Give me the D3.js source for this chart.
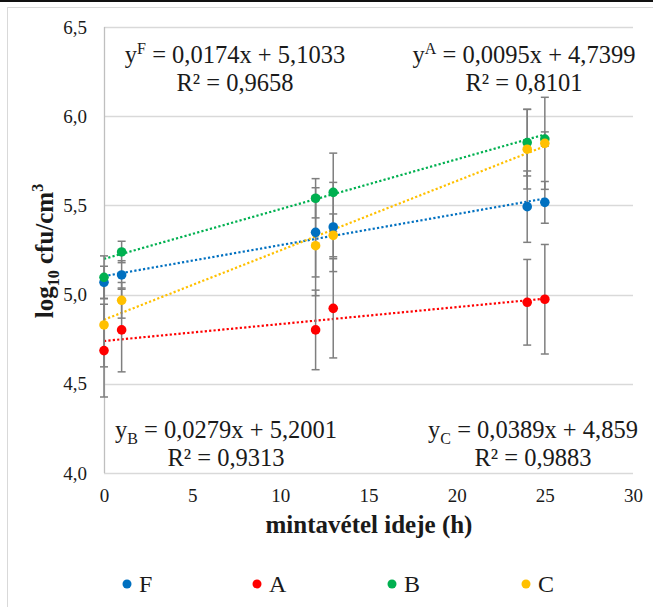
<!DOCTYPE html>
<html>
<head>
<meta charset="utf-8">
<script src="https://cdn.jsdelivr.net/npm/d3@7"></script>
<style>
  html, body { margin: 0; padding: 0; background: #fff; }
  svg { display: block; }
  text { font-family: "Liberation Serif", "Times New Roman", serif; fill: #1a1a1a; }
</style>
</head>
<body>
<svg id="chart" width="653" height="607"></svg>
<script>
// Sampling times (h)
const times = [0, 1, 12, 13, 24, 25];

// log10 cfu/cm3 means per series
const seriesNames = ["F", "A", "B", "C"];
const valuesF = [5.069, 5.110, 5.349, 5.379, 5.493, 5.517];
const valuesA = [4.686, 4.802, 4.802, 4.923, 4.957, 4.974];
const valuesB = [5.097, 5.239, 5.540, 5.573, 5.852, 5.872];
const valuesC = [4.830, 4.968, 5.274, 5.332, 5.815, 5.848];

// standard deviations (error bars)
const errF = [0.09, 0.08, 0.25, 0.25, 0.20, 0.117];
const errA = [0.26, 0.235, 0.223, 0.278, 0.24, 0.307];
const errB = [0.12, 0.06, 0.11, 0.22, 0.187, 0.04];
const errC = [0.235, 0.10, 0.28, 0.12, 0.223, 0.258];

const colors = ["#0070C0", "#FF0000", "#00B050", "#FFC000"];

// linear trendlines y = slope * x + intercept
const slopes = [0.0174, 0.0095, 0.0279, 0.0389];
const intercepts = [5.1033, 4.7399, 5.2001, 4.859];

// axis ticks
const xTicks = [0, 5, 10, 15, 20, 25, 30];
const yTicks = [4.0, 4.5, 5.0, 5.5, 6.0, 6.5];

const allValues = [valuesF, valuesA, valuesB, valuesC];
const allErr = [errF, errA, errB, errC];

const svg = d3.select("#chart");
const W = 653, H = 607;

// outer chart frame and top rule
svg.append("rect").attr("x", 0).attr("y", 0).attr("width", W).attr("height", H).attr("fill", "#fff");
svg.append("rect").attr("x", 7.5).attr("y", 7.5).attr("width", W + 10).attr("height", H + 10)
  .attr("fill", "none").attr("stroke", "#d9d9d9").attr("stroke-width", 1);
svg.append("rect").attr("x", 0).attr("y", 0).attr("width", W).attr("height", 2).attr("fill", "#111");

const x = d3.scaleLinear().domain([0, 30]).range([104, 633]);
const y = d3.scaleLinear().domain([4.0, 6.5]).range([473, 27]);

const fmt = v => d3.format(".1f")(v).replace(".", ",");

// horizontal gridlines
svg.append("g").selectAll("line").data(yTicks).join("line")
  .attr("x1", x(0)).attr("x2", x(30))
  .attr("y1", d => Math.round(y(d)) + 0.5).attr("y2", d => Math.round(y(d)) + 0.5)
  .attr("stroke", "#d9d9d9").attr("stroke-width", 1.3);

// left axis line
svg.append("line").attr("x1", x(0) + 0.5).attr("x2", x(0) + 0.5)
  .attr("y1", y(6.5)).attr("y2", y(4.0))
  .attr("stroke", "#bfbfbf").attr("stroke-width", 1.3);

// y tick labels
const yAxis = d3.axisLeft(y).tickValues(yTicks).tickFormat(fmt).tickSize(0).tickPadding(17);
const gy = svg.append("g").attr("transform", `translate(${x(0)},0)`).call(yAxis);
gy.select(".domain").remove();
gy.selectAll("text").attr("font-size", 19).attr("fill", "#262626")
  .attr("font-family", "Liberation Serif, Times New Roman, serif");

// x tick labels
const xAxis = d3.axisBottom(x).tickValues(xTicks).tickFormat(d3.format("d")).tickSize(0).tickPadding(16);
const gx = svg.append("g").attr("transform", `translate(0,${y(4.0)})`).call(xAxis);
gx.select(".domain").remove();
gx.selectAll("text").attr("font-size", 19).attr("fill", "#262626")
  .attr("font-family", "Liberation Serif, Times New Roman, serif");

// trendlines
const trend = svg.append("g");
seriesNames.forEach((name, i) => {
  trend.append("line")
    .attr("x1", x(0)).attr("x2", x(25))
    .attr("y1", y(intercepts[i])).attr("y2", y(intercepts[i] + slopes[i] * 25))
    .attr("stroke", colors[i]).attr("stroke-width", 2.2)
    .attr("stroke-dasharray", "2.2 2.2");
});

// error bars
const eb = svg.append("g").attr("stroke", "#7f7f7f").attr("stroke-width", 1.5);
seriesNames.forEach((name, i) => {
  times.forEach((t, j) => {
    const v = allValues[i][j], e = allErr[i][j];
    const cx = x(t);
    eb.append("line").attr("x1", cx).attr("x2", cx).attr("y1", y(v + e)).attr("y2", y(v - e));
    eb.append("line").attr("x1", cx - 4).attr("x2", cx + 4).attr("y1", y(v + e)).attr("y2", y(v + e));
    eb.append("line").attr("x1", cx - 4).attr("x2", cx + 4).attr("y1", y(v - e)).attr("y2", y(v - e));
  });
});

// markers
seriesNames.forEach((name, i) => {
  svg.append("g").selectAll("circle").data(times).join("circle")
    .attr("cx", d => x(d))
    .attr("cy", (d, j) => y(allValues[i][j]))
    .attr("r", 4.8)
    .attr("fill", colors[i]);
});

// trendline equations, each centred over its R² line
function equation(cx, cy, letter, sup, eq, r2) {
  const t = svg.append("text").attr("x", cx).attr("y", cy)
    .attr("font-size", 24.5).attr("text-anchor", "middle");
  t.append("tspan").text("y");
  t.append("tspan").text(letter).attr("font-size", 16).attr("dy", sup ? -9 : 6);
  t.append("tspan").text(eq).attr("dy", sup ? 9 : -6);
  svg.append("text").attr("x", cx).attr("y", cy + 28).attr("font-size", 24.5)
    .attr("text-anchor", "middle").text(r2);
}
equation(235, 63, "F", true, " = 0,0174x + 5,1033", "R² = 0,9658");
equation(524, 63, "A", true, " = 0,0095x + 4,7399", "R² = 0,8101");
equation(226, 438, "B", false, " = 0,0279x + 5,2001", "R² = 0,9313");
equation(533, 438, "C", false, " = 0,0389x + 4,859", "R² = 0,9883");

// axis titles
svg.append("text").attr("x", 369).attr("y", 533).attr("text-anchor", "middle")
  .attr("font-size", 25).attr("font-weight", "bold").text("mintavétel ideje (h)");

const yt = svg.append("text").attr("transform", "translate(53,251) rotate(-90)")
  .attr("text-anchor", "middle").attr("font-size", 25).attr("font-weight", "bold");
yt.append("tspan").text("log");
yt.append("tspan").text("10").attr("font-size", 16).attr("dy", 6);
yt.append("tspan").text(" cfu/cm").attr("dy", -6);
yt.append("tspan").text("3").attr("font-size", 16).attr("dy", -10);

// legend
const legendX = [127, 257, 392, 526];
const lg = svg.append("g");
seriesNames.forEach((name, i) => {
  lg.append("circle").attr("cx", legendX[i]).attr("cy", 584).attr("r", 4.5).attr("fill", colors[i]);
  lg.append("text").attr("x", legendX[i] + 12).attr("y", 592).attr("font-size", 24).text(name);
});
</script>
</body>
</html>
